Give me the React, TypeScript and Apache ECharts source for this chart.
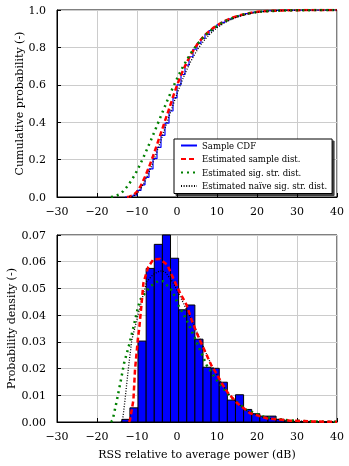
import React, { useEffect, useRef } from "react";
import * as echarts from "echarts";

// ---------- top: cumulative distributions ----------
const blueCdfX = [-13, -12, -11, -10, -9, -8, -7, -6, -5, -4, -3, -2, -1, 0, 1, 2, 3, 4, 5, 6, 7, 8, 9, 10, 11, 12, 13, 14, 15, 16, 17, 18, 19, 20, 21, 22, 23, 24, 25, 26, 27, 40];
const blueCdfY = [0, 0.003, 0.01, 0.035, 0.065, 0.105, 0.15, 0.205, 0.265, 0.33, 0.395, 0.46, 0.53, 0.6, 0.655, 0.705, 0.75, 0.79, 0.822, 0.848, 0.87, 0.89, 0.907, 0.922, 0.934, 0.944, 0.953, 0.961, 0.969, 0.975, 0.981, 0.985, 0.989, 0.992, 0.994, 0.996, 0.997, 0.998, 0.999, 0.9995, 1.0, 1.0];

const redCdfX = [-12.5, -12, -11, -10, -9, -8, -7, -6, -5, -4, -3, -2, -1, 0, 1, 2, 3, 4, 5, 6, 7, 8, 9, 10, 12, 14, 16, 18, 20, 23, 27, 32, 40];
const redCdfY = [0, 0.002, 0.008, 0.028, 0.062, 0.108, 0.16, 0.218, 0.28, 0.343, 0.407, 0.47, 0.535, 0.597, 0.652, 0.7, 0.743, 0.781, 0.814, 0.842, 0.866, 0.886, 0.903, 0.918, 0.942, 0.96, 0.973, 0.983, 0.99, 0.995, 0.998, 0.9995, 1];

const greenCdfX = [-16.5, -15.5, -14.5, -13.5, -12.5, -11.5, -10.5, -9.5, -8.5, -7.5, -6.5, -5.5, -4.5, -3.5, -2.5, -1.5, -0.5, 0.5, 1.5, 2.5, 3.5, 4.5, 5.5, 6.5, 7.5, 9, 11, 13, 15, 17, 19, 22, 26, 31, 40];
const greenCdfY = [0, 0.004, 0.013, 0.03, 0.055, 0.085, 0.12, 0.162, 0.207, 0.255, 0.305, 0.356, 0.408, 0.46, 0.512, 0.562, 0.61, 0.655, 0.697, 0.735, 0.77, 0.8, 0.828, 0.852, 0.874, 0.9, 0.928, 0.95, 0.966, 0.978, 0.986, 0.993, 0.997, 0.999, 1];

const blackCdfX = [-12, -11, -10, -9, -8, -7, -6, -5, -4, -3, -2, -1, 0, 1, 2, 3, 4, 5, 6, 7, 8, 9, 10, 12, 14, 16, 18, 20, 23, 27, 32, 40];
const blackCdfY = [0, 0.004, 0.018, 0.045, 0.085, 0.132, 0.185, 0.243, 0.305, 0.368, 0.43, 0.492, 0.552, 0.608, 0.66, 0.706, 0.748, 0.784, 0.816, 0.843, 0.866, 0.887, 0.905, 0.933, 0.954, 0.969, 0.98, 0.988, 0.994, 0.998, 0.9995, 1];

// ---------- bottom: histogram and densities ----------
const binEdges = [-13.8, -11.77, -9.74, -7.71, -5.68, -3.65, -1.62, 0.41, 2.44, 4.47, 6.5, 8.53, 10.56, 12.59, 14.62, 16.65, 18.68, 20.71, 22.74, 24.77, 26.8, 28.83, 30.86, 32.89, 34.92, 36.95, 38.98];
const binDensity = [0.001, 0.0053, 0.0303, 0.0575, 0.0665, 0.07, 0.0613, 0.042, 0.0438, 0.031, 0.0205, 0.0201, 0.0149, 0.0082, 0.0102, 0.0047, 0.0031, 0.0022, 0.0022, 0.001, 0.0004, 0.0002, 0.0002, 0.0001, 0.0001, 0.0001];

const redPdfX = [-12, -11.75, -10.9, -10.5, -9.8, -9.4, -8.8, -8.4, -7.2, -5.9, -4.25, -2.4, -1.3, 0.6, 2.4, 3.8, 5.5, 7.2, 8.6, 10, 11.2, 12.8, 15.1, 18.25, 22.4, 28.25, 34, 40];
const redPdfY = [0, 0.0007, 0.0082, 0.0195, 0.0307, 0.0357, 0.0452, 0.052, 0.058, 0.0609, 0.061, 0.0588, 0.055, 0.0488, 0.0438, 0.0376, 0.0313, 0.0258, 0.0212, 0.0178, 0.0145, 0.0107, 0.007, 0.0033, 0.0014, 0.0005, 0.0002, 0.00005];

const greenPdfX = [-16.5, -16.1, -15.1, -14.1, -13.2, -11.9, -10.7, -10.1, -9.25, -6.75, -4.7, -3.5, -2.6, -1.1, 0.3, 2.4, 4.1, 5.75, 7.4, 9.9, 13.25, 17.4, 22, 28, 34, 40];
const greenPdfY = [0, 0.0007, 0.0076, 0.0151, 0.0222, 0.0292, 0.0367, 0.0407, 0.0457, 0.0507, 0.0528, 0.0527, 0.0513, 0.049, 0.0438, 0.0382, 0.0326, 0.027, 0.0213, 0.0157, 0.0095, 0.0045, 0.0018, 0.0006, 0.0002, 0.00005];

const blackPdfX = [-14, -13.6, -13, -12.2, -11.3, -10.25, -8.9, -7.6, -5.9, -4.25, -3, -0.9, 1.2, 3.25, 5.3, 7.2, 8.6, 10, 11.2, 12.8, 15.1, 18.25, 22.4, 28.25, 34, 40];
const blackPdfY = [0, 0.0007, 0.0082, 0.0195, 0.0307, 0.037, 0.045, 0.0525, 0.0553, 0.0566, 0.0563, 0.052, 0.0457, 0.0394, 0.0326, 0.026, 0.0213, 0.0178, 0.0145, 0.0107, 0.007, 0.0033, 0.0014, 0.0005, 0.0002, 0.00005];

const seriesNames = ["Sample CDF", "Estimated sample dist.", "Estimated sig. str. dist.", "Estimated naïve sig. str. dist."];
const xTitle = "RSS relative to average power (dB)";
const yTitleTop = "Cumulative probability (-)";
const yTitleBottom = "Probability density (-)";

const FONT = "DejaVu Serif";
const pairs = (xs: number[], ys: number[]) => xs.map((x, i) => [x, ys[i]]);
const fmtX = (v: number) => (v < 0 ? "\u2212" + Math.abs(v) : String(v));

const BLUE = "#0000ff";
const RED = "#ff0000";
const GREEN = "#008000";
const BLACK = "#000000";

export default function App() {
  const ref = useRef<HTMLDivElement>(null);
  useEffect(() => {
    if (!ref.current) return;
    const chart = echarts.init(ref.current, undefined, { renderer: "svg" });
    const xAxisBase = (gridIndex: number, withName: boolean) => ({
      type: "value",
      gridIndex,
      min: -30,
      max: 40,
      interval: 10,
      axisLine: { show: true, onZero: false, lineStyle: { color: "#000", width: 1 } },
      axisTick: { show: true, inside: true, length: 4, lineStyle: { color: "#000" } },
      axisLabel: { color: "#000", fontFamily: FONT, fontSize: 11, margin: 9, formatter: fmtX },
      splitLine: { show: true, lineStyle: { color: "#cccccc", width: 1 } },
      name: withName ? xTitle : "",
      nameLocation: "middle",
      nameGap: 27,
      nameMoveOverlap: false,
      nameTextStyle: { color: "#000", fontFamily: FONT, fontSize: 11 },
    });
    const yAxisBase = (gridIndex: number, max: number, interval: number, digits: number, name: string, nameGap: number) => ({
      type: "value",
      gridIndex,
      min: 0,
      max,
      interval,
      axisLine: { show: true, onZero: false, lineStyle: { color: "#000" } },
      axisTick: { show: true, inside: true, length: 4, lineStyle: { color: "#000" } },
      axisLabel: { color: "#000", fontFamily: FONT, fontSize: 11, margin: 11, formatter: (v: number) => v.toFixed(digits) },
      splitLine: { show: true, lineStyle: { color: "#cccccc", width: 1 } },
      name,
      nameLocation: "middle",
      nameRotate: 90,
      nameGap,
      nameMoveOverlap: false,
      nameTextStyle: { color: "#000", fontFamily: FONT, fontSize: 11 },
    });
    const lineSeries = (name: string, data: number[][], color: string, width: number, dash: any, xi: number, extra: any = {}) => ({
      type: "line",
      name,
      xAxisIndex: xi,
      yAxisIndex: xi,
      data,
      symbol: "none",
      showSymbol: false,
      smooth: false,
      lineStyle: { color, width, type: dash, cap: "butt" },
      itemStyle: { color },
      z: 3,
      ...extra,
    });
    const histData = binDensity.map((d, i) => [binEdges[i], binEdges[i + 1], d]);

    chart.setOption({
      animation: false,
      textStyle: { fontFamily: FONT },
      grid: [
        { left: 57, right: 12, top: 10, height: 187, show: true, borderColor: "#000", borderWidth: 1, backgroundColor: "transparent", containLabel: false, outerBoundsMode: "none" },
        { left: 57, right: 12, top: 235, height: 187, show: true, borderColor: "#000", borderWidth: 1, backgroundColor: "transparent", containLabel: false, outerBoundsMode: "none" },
      ],
      xAxis: [xAxisBase(0, false), xAxisBase(1, true)],
      yAxis: [
        yAxisBase(0, 1, 0.2, 1, yTitleTop, 32),
        yAxisBase(1, 0.07, 0.01, 2, yTitleBottom, 40.5),
      ],
      legend: {
        data: seriesNames,
        orient: "vertical",
        left: 174,
        top: 139,
        padding: [1, 5, 2, 6],
        itemGap: 2.5,
        itemWidth: 16,
        itemHeight: 8,
        itemStyle: { opacity: 0 },
        backgroundColor: "#fff",
        borderColor: "#000",
        borderWidth: 1,
        borderRadius: 0,
        shadowColor: "rgba(0,0,0,0.75)",
        shadowOffsetX: 2,
        shadowOffsetY: 2,
        shadowBlur: 0,
        selectedMode: false,
        textStyle: { color: "#000", fontFamily: FONT, fontSize: 8.5, lineHeight: 11 },
      },
      series: [
        lineSeries(seriesNames[0], pairs(blueCdfX, blueCdfY), BLUE, 1.2, "solid", 0, { step: "end" }),
        lineSeries(seriesNames[1], pairs(redCdfX, redCdfY), RED, 2.5, [5, 3], 0),
        lineSeries(seriesNames[2], pairs(greenCdfX, greenCdfY), GREEN, 2.5, [2, 4], 0),
        lineSeries(seriesNames[3], pairs(blackCdfX, blackCdfY), BLACK, 1.3, [1, 1.6], 0),
        {
          type: "custom",
          name: "Histogram",
          xAxisIndex: 1,
          yAxisIndex: 1,
          data: histData,
          encode: { x: [0, 1], y: 2 },
          z: 2,
          renderItem: (params: any, api: any) => {
            const p0 = api.coord([api.value(0), api.value(2)]);
            const p1 = api.coord([api.value(1), 0]);
            return {
              type: "rect",
              shape: { x: p0[0], y: p0[1], width: p1[0] - p0[0], height: p1[1] - p0[1] },
              style: { fill: BLUE, stroke: "#000", lineWidth: 1 },
            };
          },
        },
        lineSeries(seriesNames[2], pairs(greenPdfX, greenPdfY), GREEN, 2.5, [2, 4], 1),
        lineSeries(seriesNames[3], pairs(blackPdfX, blackPdfY), BLACK, 1.3, [1, 1.6], 1),
        lineSeries(seriesNames[1], pairs(redPdfX, redPdfY), RED, 2.5, [5, 3], 1),
      ],
    });
    return () => chart.dispose();
  }, []);
  return <div ref={ref} style={{ position: "fixed", left: 0, top: 0, width: 349, height: 466 }} />;
}
